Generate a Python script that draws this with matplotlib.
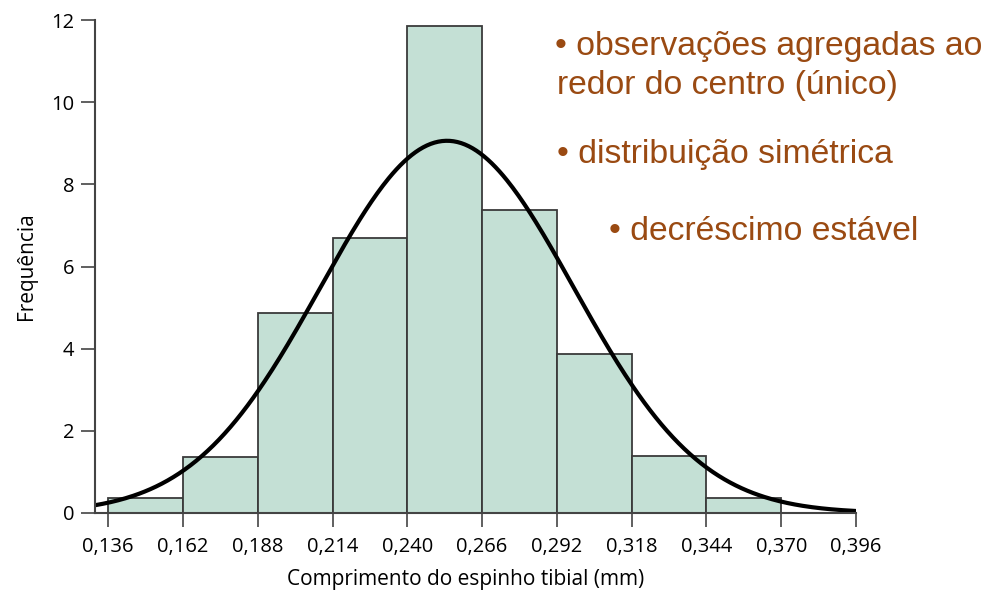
import numpy as np
import matplotlib.pyplot as plt

# bin edges (mm) and bar heights
bin_edges = [0.136, 0.162, 0.188, 0.214, 0.240, 0.266, 0.292, 0.318, 0.344, 0.370]
heights = [0.36, 1.36, 4.88, 6.70, 11.85, 7.38, 3.88, 1.38, 0.36]
tick_values = [0.136, 0.162, 0.188, 0.214, 0.240, 0.266, 0.292, 0.318, 0.344, 0.370, 0.396]
tick_labels = ["0,136", "0,162", "0,188", "0,214", "0,240", "0,266",
               "0,292", "0,318", "0,344", "0,370", "0,396"]

# fitted normal curve (peak height, mean, sd)
curve_peak = 9.06
curve_mean = 0.2538
curve_sd = 0.0440

notes = [
    ("• observações agregadas ao", 555, 55),
    ("redor do centro (único)", 557, 94),
    ("• distribuição simétrica", 557, 163),
    ("• decréscimo estável", 609, 240),
]

W, H = 990, 592
fig = plt.figure(figsize=(W / 100, H / 100), dpi=100)
ax = fig.add_axes([95 / W, 1 - 513 / H, (856 - 95) / W, (513 - 20) / H])

lefts = bin_edges[:-1]
widths = np.diff(bin_edges)
ax.bar(lefts, heights, width=widths, align="edge", color="#c4e0d5",
       edgecolor="#3a3a3a", linewidth=1.3)

xmin, xmax = 0.1314, 0.396
xs = np.linspace(xmin, xmax, 400)
ys = curve_peak * np.exp(-0.5 * ((xs - curve_mean) / curve_sd) ** 2)
ax.plot(xs, ys, color="black", linewidth=3, solid_capstyle="butt")

ax.set_xlim(xmin, xmax)
ax.set_ylim(0, 12)
ax.spines["top"].set_visible(False)
ax.spines["right"].set_visible(False)
for s in ("left", "bottom"):
    ax.spines[s].set_color("#444444")
    ax.spines[s].set_linewidth(1.5)

tick_font = dict(family="Open Sans", size=14.5)
ax.set_xticks(tick_values)
ax.set_xticklabels(tick_labels, **tick_font)
ax.set_yticks([0, 2, 4, 6, 8, 10, 12])
ax.set_yticklabels(["0", "2", "4", "6", "8", "10", "12"], **tick_font)
ax.tick_params(axis="both", direction="out", length=10, width=1.2,
               color="#444444")
ax.tick_params(axis="x", pad=7)
ax.tick_params(axis="y", pad=5)

ax.set_xlabel("Comprimento do espinho tibial (mm)", family="Open Sans",
              size=15)
ax.xaxis.set_label_coords(0.4875, -0.113)
ax.xaxis.label.set_va("top")
ax.set_ylabel("Frequência", family="Open Sans", size=15, labelpad=10)

for txt, px, py in notes:
    fig.text(px / W, 1 - py / H, txt, family="Liberation Sans", size=24.3,
             color="#9a4a12", va="baseline", ha="left")

fig.savefig("out.png", dpi=100)
